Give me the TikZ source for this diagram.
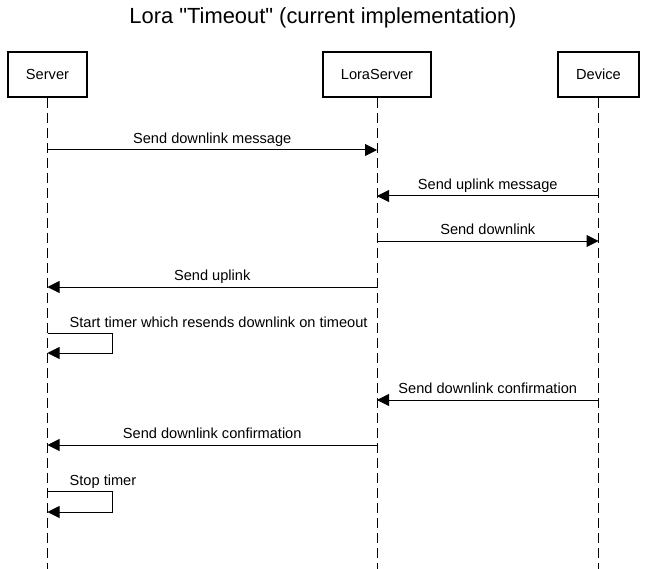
\documentclass[tikz,border=0pt]{standalone}
\usepackage{fontspec}
\setsansfont{Liberation Sans}[Ligatures=TeXOff]
\usepackage{tikz}
\usetikzlibrary{arrows.meta,positioning,calc}
\tikzset{
  actor/.style={draw=black, line width=1.8pt, align=center, inner sep=3pt, minimum height=45pt, font=\sffamily\fontsize{14.6}{17}\selectfont},
  lifeline/.style={line width=1pt, dash pattern=on 10pt off 5pt},
  msg/.style={-{Triangle[length=12pt,width=12pt]}, line width=1pt},
  msglabel/.style={anchor=base, inner sep=0pt, yshift=6.5pt, font=\sffamily\fontsize{14.6}{17}\selectfont},
  looplabel/.style={anchor=base west, inner sep=0pt, yshift=6pt, font=\sffamily\fontsize{14.6}{17}\selectfont}
}

\begin{document}
\begin{tikzpicture}[x=1pt, y=-1pt]
\useasboundingbox (0,0) rectangle (647,569);
\node[font=\sffamily\fontsize{21.9}{26}\selectfont] (title) at (323,18) {Lora "Timeout" (current implementation)};
% participants
\node[actor, minimum width=79pt] (server) at (47.5,74.5) {Server};
\node[actor, minimum width=108pt] (loraserver) at (377,74.5) {LoraServer};
\node[actor, minimum width=81pt] (device) at (598.5,74.5) {Device};
\coordinate (bottom) at (0,569);
\draw[lifeline] (server) -- (server |- bottom);
\draw[lifeline] (loraserver) -- (loraserver |- bottom);
\draw[lifeline] (device) -- (device |- bottom);
% message rows
\coordinate (m1) at (0,150);
\coordinate (m2) at (0,196);
\coordinate (m3) at (0,241);
\coordinate (m4) at (0,287);
\coordinate (m5) at (0,333);
\coordinate (m6) at (0,400);
\coordinate (m7) at (0,445);
\coordinate (m8) at (0,491);
\draw[msg] (server |- m1) -- node[msglabel] {Send downlink message} (loraserver |- m1);
\draw[msg] (device |- m2) -- node[msglabel] {Send uplink message} (loraserver |- m2);
\draw[msg] (loraserver |- m3) -- node[msglabel] {Send downlink} (device |- m3);
\draw[msg] (loraserver |- m4) -- node[msglabel] {Send uplink} (server |- m4);
\draw[msg] (server |- m5) -- ++(65,0) -- ++(0,20) -- ++(-65,0);
\node[looplabel] (starttimer) at ($(server |- m5)+(22,0)$) {Start timer which resends downlink on timeout};
\draw[msg] (device |- m6) -- node[msglabel] {Send downlink confirmation} (loraserver |- m6);
\draw[msg] (loraserver |- m7) -- node[msglabel] {Send downlink confirmation} (server |- m7);
\draw[msg] (server |- m8) -- ++(65,0) -- ++(0,21) -- ++(-65,0);
\node[looplabel] (stoptimer) at ($(server |- m8)+(22,0)$) {Stop timer};
\end{tikzpicture}
\end{document}
